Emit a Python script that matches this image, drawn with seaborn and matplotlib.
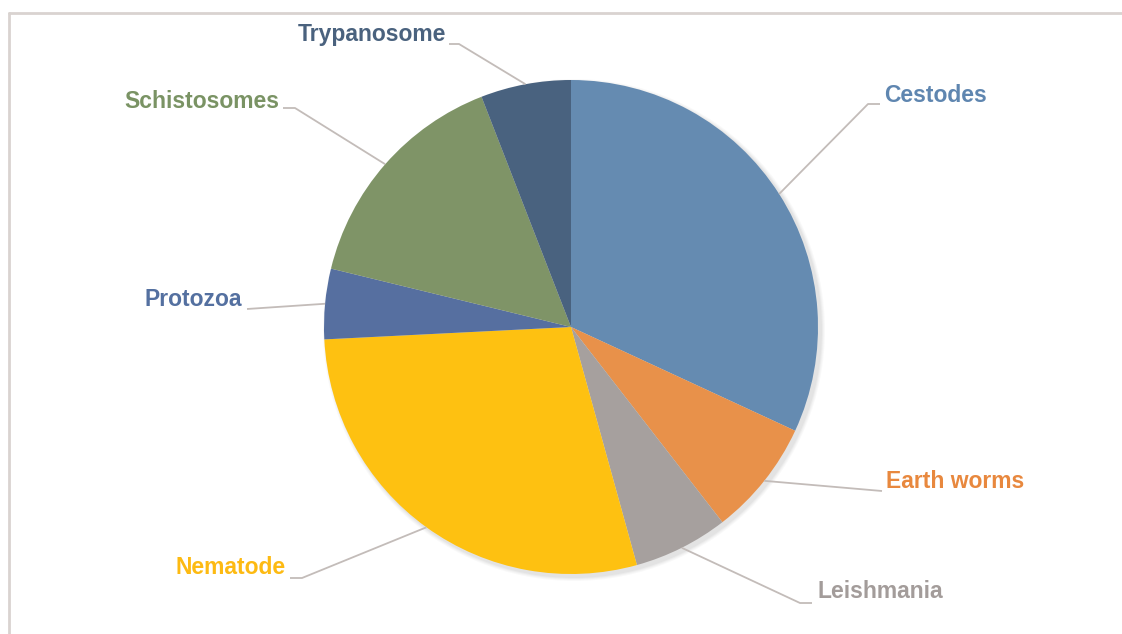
import numpy as np
import matplotlib
matplotlib.use("Agg")
import matplotlib.pyplot as plt
import seaborn as sns

# ---- data ----
categories = ["Cestodes", "Earth worms", "Leishmania", "Nematode",
              "Protozoa", "Schistosomes", "Trypanosome"]
values = [31.9, 7.6, 6.2, 28.5, 4.6, 15.3, 5.9]
colors = ["#658BB1", "#E8914A", "#A6A09E", "#FEC111",
          "#566FA0", "#7F9467", "#49627F"]
label_colors = ["#5F86B0", "#E8883E", "#A39C9A", "#FDBA12",
                "#5470A0", "#7A9364", "#4A627E"]

# label layout (pixel coords, y from top): elbow, line end, text anchor, ha
elbows = [(868, 104), (882, 491), (800, 603), (302, 578),
          (247, 309), (295, 108), (459, 44)]
ends = [(880, 104), (882, 491), (812, 603), (290, 578),
        (247, 309), (283, 108), (449, 44)]
text_pos = [(884, 95), (886, 482), (818, 592), (286, 568),
            (242, 299), (279, 101), (446, 34)]
text_ha = ["left", "left", "left", "right", "right", "right", "right"]

sns.set_theme(style="white")
plt.rcParams['font.family'] = ['Liberation Sans', 'DejaVu Sans']

W, H = 1122, 634
fig = plt.figure(figsize=(W / 100, H / 100), dpi=100)
ax = fig.add_axes([0, 0, 1, 1])
ax.set_xlim(0, W)
ax.set_ylim(0, H)
ax.set_axis_off()

cx, cy, r = 571, H - 327, 247

# soft shadow
for k, a in enumerate([0.025, 0.025, 0.03, 0.03]):
    ax.add_patch(plt.Circle((cx + 3, cy - 3), r + 4 - k, color="black",
                            alpha=a, lw=0, zorder=1))

wedges, _ = ax.pie(values, colors=colors, startangle=90, counterclock=False,
                   center=(cx, cy), radius=r, frame=True,
                   wedgeprops=dict(linewidth=0, zorder=2))
ax.set_xlim(0, W)
ax.set_ylim(0, H)
ax.set_aspect("equal")
ax.set_axis_off()

line_col = "#C3BCB9"
for w, el, en, tp, ha, lc, name in zip(wedges, elbows, ends, text_pos,
                                      text_ha, label_colors, categories):
    mid = np.deg2rad((w.theta1 + w.theta2) / 2)
    sx = cx + r * np.cos(mid)
    sy = cy + r * np.sin(mid)
    ax.plot([sx, el[0], en[0]], [sy, H - el[1], H - en[1]],
            color=line_col, lw=1.3, zorder=3, solid_capstyle="butt")
    ax.text(tp[0], H - tp[1], name, ha=ha, va="center", fontsize=16.5,
            fontweight="bold", color=lc, zorder=4)

# outer frame (cut off at right and bottom)
frame_col = "#D9D3D0"
ax.plot([9, W], [H - 13, H - 13], color=frame_col, lw=2, zorder=0)
ax.plot([9, 9], [H - 13, 0], color=frame_col, lw=2, zorder=0)

fig.savefig("out.png", dpi=100, facecolor="white")
